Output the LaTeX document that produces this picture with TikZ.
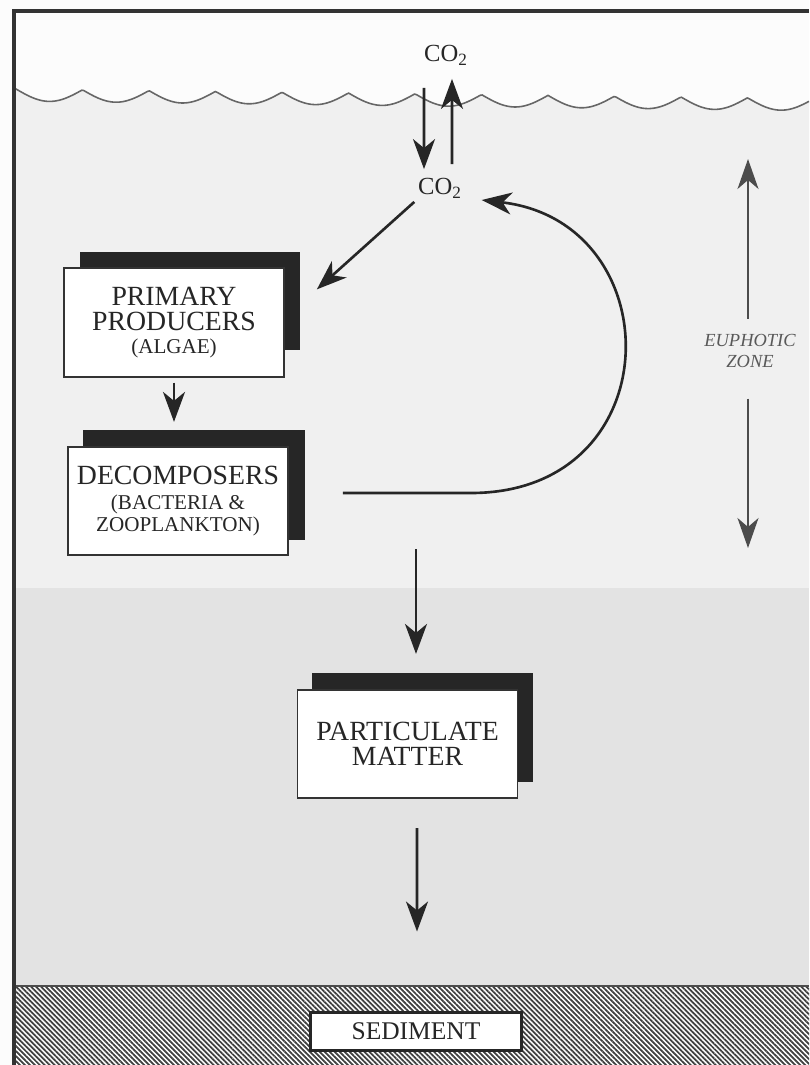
\documentclass[tikz,border=0pt]{standalone}
\usepackage{fontspec}
\setmainfont{Liberation Serif}
\usetikzlibrary{positioning,calc,arrows.meta,patterns.meta}
\tikzset{
  box/.style={draw=black!80, line width=1pt, fill=white, minimum width=4.4cm,
    minimum height=2.17cm, align=center, inner sep=2pt, text=black!85,
    font=\fontsize{15.8}{14.5}\selectfont},
  shadowbox/.style={fill=black!85},
  arr/.style={-{Stealth[length=6mm,width=4.4mm,inset=1.8mm]}, line width=1.5pt, draw=black!85},
  zarr/.style={-{Stealth[length=6mm,width=4.2mm,inset=1.8mm]}, line width=1.1pt, draw=black!70},
  gas/.style={inner sep=2pt, text=black!85, font=\fontsize{14}{14}\selectfont},
  zone/.style={align=center, text=black!65, font=\itshape\fontsize{10.5}{11.5}\selectfont},
  sedbox/.style={draw=black!85, line width=1.7pt, fill=white, minimum width=4.24cm,
    minimum height=0.76cm, text=black!85, font=\fontsize{14.5}{14.5}\selectfont}
}
\newcommand{\smalltxt}{\fontsize{12}{11}\selectfont}

\begin{document}
\begin{tikzpicture}[x=0.02cm, y=-0.02cm]
\useasboundingbox (0,0) rectangle (809,1065);
% water layers
\fill[black!1] (0,0) rectangle (809,1065);
\fill[black!6] plot[domain=14:809, samples=400, variable=\t]
  ({\t},{89+0.012*(\t-16)+12*abs(sin(((\t-16)/66.5)*180))}) -- (809,588) -- (14,588) -- cycle;
\fill[black!11] (14,588) rectangle (809,986);
\draw[black!60, line width=0.9pt] plot[domain=14:809, samples=400, variable=\t]
  ({\t},{89+0.012*(\t-16)+12*abs(sin(((\t-16)/66.5)*180))});
% sediment
\fill[white] (14,986) rectangle (809,1065);
\fill[pattern={Lines[angle=-45,distance=2pt,line width=1pt]}, pattern color=black!75]
  (14,986) rectangle (809,1065);
\draw[black!70, line width=1.2pt] (14,986) -- (809,986);
\draw[black!80, line width=2.2pt] (14,1065) -- (14,11) -- (809,11);

% shadows behind the boxes
\fill[shadowbox] (80,252) rectangle (300,350);
\fill[shadowbox] (83,430) rectangle (305,540);
\fill[shadowbox] (312,673) rectangle (533,782);

\node[gas] (CO2air) at (446,55) {CO\textsubscript{2}};
\node[gas] (CO2sea) at (440,188) {CO\textsubscript{2}};
\node[box] (Prim) at (174,322.5) {PRIMARY\\PRODUCERS\\[-1.5pt]{\smalltxt (ALGAE)}};
\node[box] (Decomp) at (178,501) {DECOMPOSERS\\[-0.5pt]{\smalltxt (BACTERIA \&}\\[-2pt]{\smalltxt ZOOPLANKTON)}};
\node[box] (Partic) at (407.5,744) {PARTICULATE\\MATTER};
\node[sedbox] (Sed) at (416,1031) {SEDIMENT};
\node[zone] (Zone) at (750,351) {EUPHOTIC\\ZONE};
\coordinate (Ztop) at (748,159);
\coordinate (Zbot) at (748,548);

\draw[arr, shorten <=0.38cm, shorten >=0.1cm] ([xshift=-0.44cm]CO2air.south) -- ([xshift=-0.32cm]CO2sea.north);
\draw[arr, shorten <=0.2cm, shorten >=0.2cm] ([xshift=0.24cm]CO2sea.north) -- ([xshift=0.12cm]CO2air.south);
\draw[arr] (CO2sea.south west) -- ([xshift=0.64cm,yshift=-0.44cm]Prim.north east);
\draw[arr, shorten <=0.1cm, shorten >=0.48cm] (Prim.south) -- (Prim.south |- Decomp.north);
\draw[arr] ($(Decomp.east)+(54,-8)$) -- ($(Decomp.east)+(182,-8)$)
  .. controls (672,493) and (672,222) .. ($(CO2sea.east)+(16,12)$);
\draw[arr] ($(Partic.north |- Decomp.south)+(8.5,-7)$) -- ($(Partic.north)+(8.5,-35)$);
\draw[arr] ($(Partic.south)+(9.5,29)$) -- ($(Sed.north)+(1,-79)$);
\draw[zarr, shorten <=0.2cm] (Zone.north -| Ztop) -- (Ztop);
\draw[zarr, shorten <=0.5cm] (Zone.south -| Zbot) -- (Zbot);
\end{tikzpicture}
\end{document}
